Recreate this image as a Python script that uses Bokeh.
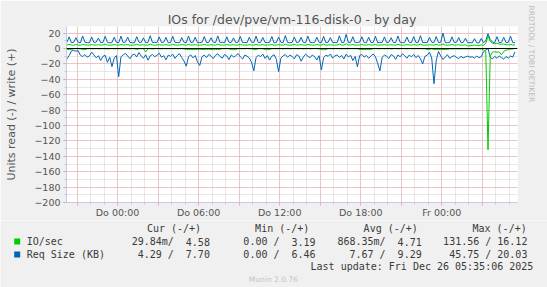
import re
from bokeh.plotting import figure
from bokeh.models import FixedTicker, Range1d, Span, Title
from bokeh.layouts import column
from bokeh.embed import file_html
from bokeh.resources import INLINE
from bokeh.core.properties import value

# ---------------- data ----------------
TITLE = "IOs for /dev/pve/vm-116-disk-0 - by day"
Y_LABEL = "Units read (-) / write (+)"
SIDE_TEXT = "RRDTOOL / TOBI OETIKER"
T_START = -3.75          # hours relative to Do 00:00
T_STEP = 1.0 / 6.0       # 10 minute samples
X_START, X_END = -3.78, 29.6
Y_START, Y_END = -200, 28.6
x_label_map = {0: "Do 00:00", 6: "Do 06:00", 12: "Do 12:00", 18: "Do 18:00", 24: "Fr 00:00"}
x_major = [-3, 0, 3, 6, 9, 12, 15, 18, 21, 24, 27]
x_minor = list(range(-3, 30))
y_major = list(range(-200, 21, 20))
y_minor = list(range(-200, 21, 10))

# write Req Size (KB), positive
req_write = [
    8.1, 15.2, 7.6, 8.0, 14.1, 7.9, 7.4, 16.3, 8.2, 7.7, 7.5, 15.0, 7.8, 8.3, 13.6, 7.6, 7.9, 15.8, 8.0, 7.4,
    7.8, 14.7, 8.1, 7.5, 16.0, 7.7, 8.4, 14.9, 7.9, 7.6, 7.3, 15.4, 8.2, 7.8, 13.9, 7.5, 8.0, 16.6, 7.7, 8.1,
    7.6, 15.1, 7.9, 8.3, 14.4, 7.4, 7.8, 15.9, 8.0, 7.7, 7.5, 14.2, 8.1, 7.6, 16.2, 7.9, 8.2, 14.8, 7.5, 7.8,
    8.0, 15.5, 7.7, 7.9, 14.0, 8.3, 7.6, 16.4, 7.8, 8.1, 7.4, 15.2, 7.9, 8.0, 13.8, 7.7, 8.2, 15.7, 7.6, 7.9,
    7.5, 14.6, 8.2, 7.8, 16.1, 7.6, 8.0, 14.3, 7.9, 7.7, 8.1, 15.6, 7.4, 7.8, 14.9, 8.2, 7.6, 16.8, 7.9, 7.5,
    8.0, 15.0, 7.7, 8.3, 14.5, 7.8, 7.5, 16.0, 8.1, 7.6, 7.9, 14.7, 8.0, 7.7, 15.8, 7.5, 8.2, 14.2, 7.8, 7.9,
    7.6, 16.5, 8.0, 7.8, 18.4, 7.7, 8.1, 15.3, 7.5, 7.9, 8.2, 15.3, 7.7, 7.6, 14.6, 8.0, 7.8, 15.9, 7.4, 8.1,
    7.9, 15.1, 7.6, 8.2, 14.0, 7.8, 7.7, 16.2, 8.0, 7.5, 7.9, 14.9, 8.1, 7.6, 15.5, 7.8, 8.0, 16.7, 7.7, 7.9,
    7.6, 14.4, 8.1, 7.8, 15.6, 7.7, 8.2, 20.03, 7.9, 7.5, 8.0, 15.2, 7.8, 8.1, 14.3, 7.6, 7.9, 13.5, 7.4, 7.7,
    7.3, 12.8, 7.5, 7.2, 13.1, 7.6, 9.8, 19.3, 11.6, 8.2, 7.8, 15.4, 7.5, 8.0, 14.6, 7.7, 7.9, 16.0, 7.6, 7.70,
]

# write IO/sec, positive
io_write = [
    4.6, 5.3, 4.5, 4.4, 5.1, 4.6, 4.3, 5.4, 4.7, 4.5, 4.4, 5.2, 4.6, 4.5, 5.0, 4.4, 4.6, 5.5, 4.5, 4.3,
    4.5, 5.1, 4.6, 4.4, 5.3, 4.5, 4.7, 5.0, 4.4, 4.3, 4.6, 5.4, 4.5, 4.6, 4.9, 4.4, 4.5, 5.6, 4.6, 4.4,
    4.5, 5.2, 4.4, 4.6, 5.0, 4.3, 4.5, 5.5, 4.6, 4.4, 4.5, 5.1, 4.7, 4.4, 5.3, 4.5, 4.6, 5.0, 4.3, 4.5,
    4.6, 5.4, 4.5, 4.4, 4.9, 4.6, 4.4, 5.6, 4.5, 4.6, 4.3, 5.2, 4.5, 4.7, 4.9, 4.4, 4.5, 5.3, 4.6, 4.4,
    4.5, 5.0, 4.6, 4.4, 5.5, 4.5, 4.6, 5.1, 4.4, 4.5, 4.7, 5.3, 4.3, 4.5, 5.0, 4.6, 4.4, 5.7, 4.5, 4.3,
    4.6, 5.2, 4.5, 4.7, 5.0, 4.4, 4.3, 5.4, 4.6, 4.5, 4.4, 5.1, 4.6, 4.5, 5.5, 4.3, 4.6, 4.9, 4.5, 4.4,
    4.5, 5.6, 4.6, 4.4, 6.2, 4.5, 4.7, 5.2, 4.4, 4.5, 4.6, 5.3, 4.5, 4.4, 5.0, 4.6, 4.5, 5.4, 4.3, 4.6,
    4.5, 5.1, 4.4, 4.6, 4.9, 4.5, 4.4, 5.5, 4.6, 4.3, 4.5, 5.0, 4.7, 4.4, 5.2, 4.5, 4.6, 5.6, 4.4, 4.5,
    4.3, 5.0, 4.6, 4.5, 5.3, 4.4, 4.6, 6.0, 4.5, 4.3, 4.6, 5.2, 4.4, 4.5, 4.9, 4.3, 4.5, 4.8, 3.19, 3.6,
    3.8, 4.6, 4.0, 3.9, 4.7, 4.2, 6.5, 16.12, 9.4, 6.8, 6.2, 6.9, 5.8, 5.5, 5.9, 4.9, 4.7, 5.3, 4.6, 4.58,
]

# read IO/sec, drawn negative
io_read = [
    -1.2, -1.4, -1.1, -0.3, -0.2, -0.4, -0.3, -1.6, -1.3, -0.4, -0.2, -0.3, -0.5, -0.2, -0.3, -0.4, -0.2, -0.3, -0.5, -0.3,
    -0.2, -0.4, -0.3, -0.2, -0.5, -0.3, -0.2, -0.4, -0.3, -0.2, -0.3, -1.3, -0.4, -0.2, -0.3, -4.6, -0.2, -0.3, -0.5, -0.3,
    -0.2, -0.3, -0.5, -0.2, -0.3, -0.4, -0.2, -0.3, -0.2, -0.4, -0.3, -0.2, -0.5, -1.2, -1.3, -1.1, -1.4, -1.2, -1.3, -1.1,
    -1.2, -1.4, -1.3, -1.1, -1.2, -1.5, -1.3, -1.2, -1.1, -0.4, -0.3, -0.2, -0.5, -1.4, -1.6, -1.3, -0.3, -0.2, -0.4, -0.3,
    -0.2, -0.4, -0.3, -1.5, -1.3, -0.3, -0.2, -0.4, -1.4, -1.6, -1.3, -0.3, -0.2, -0.4, -0.3, -0.2, -0.5, -0.3, -0.2, -0.4,
    -0.3, -0.2, -0.4, -0.3, -0.2, -0.5, -0.3, -0.2, -0.4, -0.3, -0.2, -0.3, -0.5, -1.4, -1.5, -1.3, -0.3, -0.2, -0.4, -0.3,
    -0.2, -0.3, -0.5, -0.2, -0.3, -0.4, -0.2, -0.3, -0.2, -0.4, -1.3, -1.2, -1.4, -1.3, -1.5, -1.2, -0.3, -0.2, -0.4, -0.3,
    -0.2, -0.4, -0.3, -0.2, -0.5, -0.3, -0.2, -0.4, -0.3, -0.2, -0.3, -0.5, -0.2, -0.3, -0.4, -0.2, -0.3, -0.2, -0.4, -0.3,
    -1.3, -1.4, -0.3, -1.2, -1.4, -1.3, -1.5, -1.2, -1.3, -1.1, -0.5, -0.6, -0.4, -0.5, -0.6, -0.5, -0.4, -0.6, -0.5, -0.4,
    -0.5, -0.6, -0.4, -0.5, -0.6, -1.8, -3.2, -131.56, -9.5, -4.6, -4.2, -4.8, -4.4, -8.2, -3.6, -2.1, -1.4, -0.8, -0.5, -0.03,
]

# read Req Size (KB), drawn negative
req_read = [
    -13.5, -9.2, -3.1, -2.6, -3.4, -2.9, -8.7, -10.4, -7.9, -11.2, -9.6, -4.8, -8.3, -12.1, -9.4, -15.6, -10.2, -8.8, -17.9, -11.3,
    -23.5, -12.4, -9.1, -36.5, -10.8, -8.2, -6.4, -9.7, -13.3, -8.5, -7.2, -10.9, -5.3, -9.8, -12.6, -8.1, -15.2, -9.4, -7.7, -10.6,
    -8.9, -6.1, -11.4, -9.3, -14.7, -8.6, -10.1, -7.4, -12.8, -9.0, -6.8, -11.7, -16.3, -23.0, -10.5, -8.3, -12.2, -9.1, -17.4, -22.0,
    -10.7, -8.4, -11.9, -7.6, -9.8, -13.1, -8.7, -6.9, -10.3, -12.5, -7.8, -9.6, -14.4, -8.2, -11.1, -9.3, -6.6, -10.8, -13.7, -8.5,
    -9.9, -12.3, -17.8, -29.0, -11.6, -8.8, -10.4, -7.3, -12.9, -9.2, -15.1, -10.0, -8.1, -13.8, -30.0, -12.7, -9.5, -7.9, -11.3, -8.6,
    -10.2, -13.4, -8.0, -9.7, -16.5, -11.0, -7.5, -9.9, -12.0, -8.4, -10.6, -14.9, -9.3, -28.0, -11.8, -8.7, -10.1, -7.1, -12.4, -9.6,
    -8.3, -11.5, -9.0, -13.6, -7.4, -10.9, -8.8, -15.7, -10.3, -23.6, -9.1, -7.7, -11.2, -8.9, -12.7, -9.8, -7.0, -10.5, -19.2, -29.0,
    -11.4, -8.6, -10.0, -12.9, -7.8, -9.5, -14.1, -8.3, -10.8, -6.9, -9.2, -12.6, -8.5, -10.7, -7.6, -11.9, -9.0, -13.3, -20.0, -10.1,
    -8.7, -4.9, -12.2, -45.75, -15.8, -3.8, -9.6, -14.3, -11.0, -8.1, -12.8, -10.4, -9.3, -11.6, -13.0, -10.2, -12.1, -10.9, -9.8, -11.4,
    -10.6, -12.3, -9.9, -11.8, -10.7, -4.2, -2.0, 0.0, -11.5, -13.4, -10.2, -12.7, -9.6, -11.9, -13.8, -10.4, -12.5, -9.7, -11.2, -4.29,
]

hours = [T_START + i * T_STEP for i in range(len(req_write))]

# legend
legend_names = ["IO/sec", "Req Size (KB)"]
legend_colors = ["#00CC00", "#0066B3"]
col_headers = ["Cur (-/+)", "Min (-/+)", "Avg (-/+)", "Max (-/+)"]
col_cur = ["29.84m/  4.58", "4.29 /  7.70"]
col_min = ["0.00 /  3.19", "0.00 /  6.46"]
col_avg = ["868.35m/  4.71", "7.67 /  9.29"]
col_max = ["131.56 / 16.12", "45.75 / 20.03"]
last_update = "Last update: Fri Dec 26 05:35:06 2025"
footer = "Munin 2.0.76"

GREEN, BLUE = legend_colors
BG = "#F0F0F0"
TXT = "#555555"
LTXT = "#3A3A3A"
CW = 6.02                     # monospace advance at 10px
TOP_H = 220                   # height of the chart part of the page

# ---------------- chart ----------------
p = figure(width=547, height=TOP_H, output_backend="svg", toolbar_location=None,
           x_range=Range1d(X_START, X_END), y_range=Range1d(Y_START, Y_END),
           min_border_left=66, min_border_right=30, min_border_top=26, min_border_bottom=17)
p.border_fill_color = BG
p.background_fill_color = "white"
p.outline_line_color = None

p.title.text = TITLE
p.title.align = "center"
p.title.text_font = "DejaVu Sans"
p.title.text_font_size = "12.5px"
p.title.text_font_style = "normal"
p.title.text_color = TXT
p.title.standoff = 0

# vertical credit text on the right side
p.add_layout(Title(text=SIDE_TEXT, align="left", offset=-21, standoff=18,
                   text_font="DejaVu Sans", text_font_size="7.5px",
                   text_font_style="normal", text_color="#BBBBBB"), "right")

for ax in (p.xaxis[0], p.yaxis[0]):
    ax.axis_line_color = "#C8C8F0"
    ax.major_label_text_font = "DejaVu Sans"
    ax.major_label_text_font_size = "9.5px"
    ax.major_label_text_color = TXT
    ax.major_tick_in = 0
    ax.minor_tick_in = 0

p.xaxis.ticker = FixedTicker(ticks=x_major, minor_ticks=x_minor)
p.xaxis.major_label_overrides = {t: x_label_map.get(t, "") for t in x_major}
p.xaxis.major_tick_out = 3
p.xaxis.minor_tick_out = 2
p.xaxis.major_tick_line_color = "#E8A0A0"
p.xaxis.minor_tick_line_color = "#C8C8C8"
p.xaxis.major_label_standoff = 1

p.yaxis.ticker = FixedTicker(ticks=y_major, minor_ticks=y_minor)
p.yaxis.major_tick_out = 3
p.yaxis.minor_tick_out = 2
p.yaxis.major_tick_line_color = "#A0A0A0"
p.yaxis.minor_tick_line_color = "#C8C8C8"
p.yaxis.major_label_standoff = 3
p.yaxis.axis_label = Y_LABEL
p.yaxis.axis_label_text_font = "DejaVu Sans"
p.yaxis.axis_label_text_font_size = "11px"
p.yaxis.axis_label_text_font_style = "normal"
p.yaxis.axis_label_text_color = TXT
p.yaxis.axis_label_standoff = 13

for g in (p.xgrid[0], p.ygrid[0]):
    g.grid_line_color = "#F0A0A0"
    g.grid_line_dash = "1 1"
    g.grid_line_width = 1
    g.minor_grid_line_color = "#D0D0D0"
    g.minor_grid_line_dash = "1 1"
    g.minor_grid_line_width = 1

p.line(hours, req_read, line_color=BLUE, line_width=1)
p.line(hours, req_write, line_color=BLUE, line_width=1)
p.line(hours, io_read, line_color=GREEN, line_width=1)
p.line(hours, io_write, line_color=GREEN, line_width=1)
p.add_layout(Span(location=0, dimension="width", line_color="black", line_width=1.2))

# ---------------- legend panel (data units == page pixels) ----------------
q = figure(width=547, height=287 - TOP_H, output_backend="svg", toolbar_location=None,
           x_range=Range1d(0, 547), y_range=Range1d(287, TOP_H),
           min_border=0, min_border_left=0, min_border_right=0, min_border_top=0, min_border_bottom=0)
q.axis.visible = False
q.grid.visible = False
q.outline_line_color = None
q.background_fill_color = BG
q.border_fill_color = BG

for fig in (p, q):
    if "frame_align" in fig.properties():
        fig.frame_align = False

items = {"left": ([], [], []), "right": ([], [], []), "center": ([], [], [])}


def put(text, px, py, align):
    xs, ys, ts = items[align]
    xs.append(px)
    ys.append(py)
    ts.append(text)


def put_mono_right(text, right_px, py):
    n = len(text)
    for m in re.finditer(r"\S+(?: \S+)*", text):
        put(m.group(0), right_px - (n - m.end()) * CW, py, "right")


row_y = [241, 253.9]
for hx, h in zip([200.6, 308.8, 417.3, 526.2], col_headers):
    put(h, hx, 228.1, "right")
for ry, name in zip(row_y, legend_names):
    put(name, 26.2, ry, "left")
for xr, col in zip([209.4, 315.1, 421.2, 526.9], [col_cur, col_min, col_avg, col_max]):
    for ry, txt in zip(row_y, col):
        put_mono_right(txt, xr, ry)
put(last_update, 532.8, 265.7, "right")

MONO = value("DejaVu Sans Mono")
for align, (xs, ys, ts) in items.items():
    if xs:
        q.text(x=xs, y=ys, text=ts, text_align=align, text_baseline="middle",
               text_font=MONO, text_font_size="10px", text_color=LTXT)
q.text(x=[272.9], y=[279], text=[footer], text_align="center", text_baseline="middle",
       text_font=value("DejaVu Sans"), text_font_size="7.5px", text_color="#C4C4C4")
q.scatter(x=[16.7, 16.7], y=row_y, marker="square", size=6, fill_color=legend_colors, line_color=None)

layout = column(p, q, spacing=0)
open("out.html", "w").write(file_html(layout, INLINE))
